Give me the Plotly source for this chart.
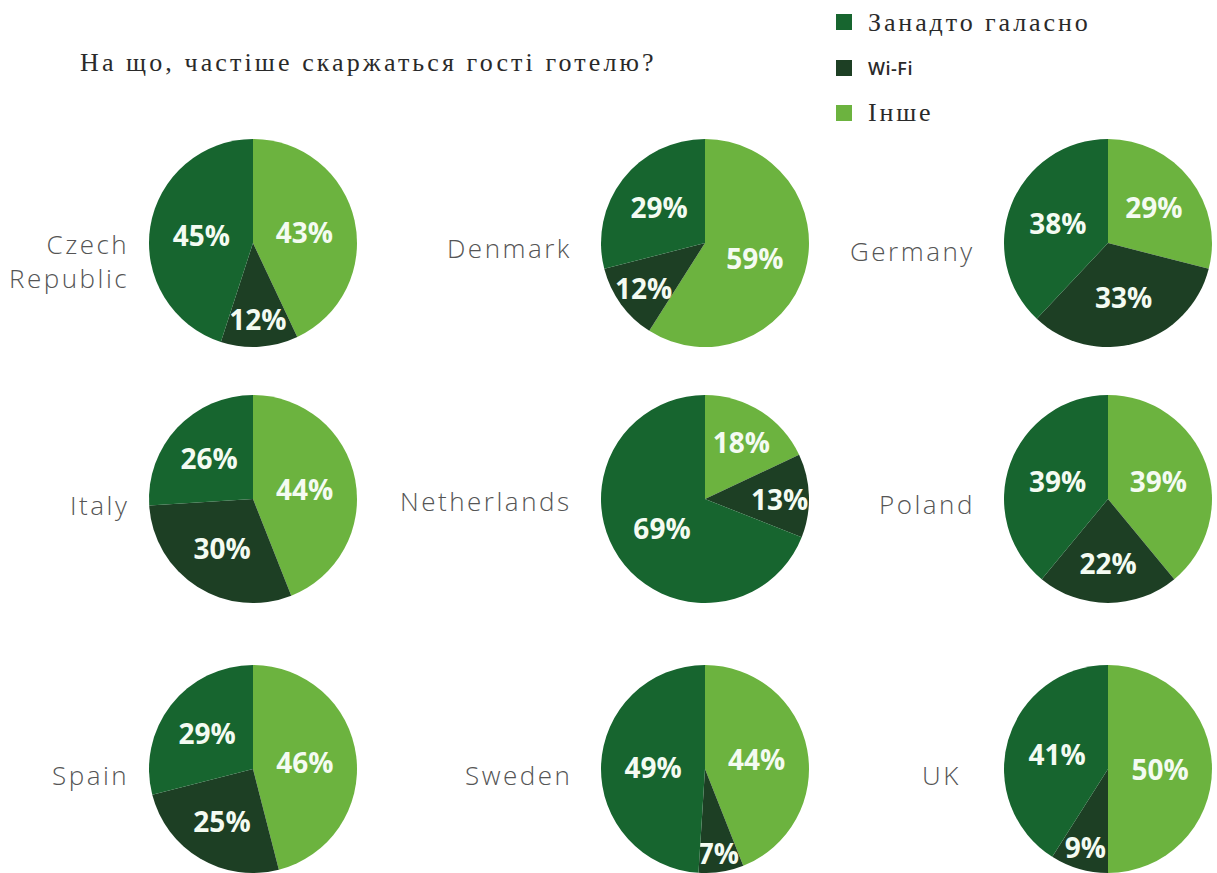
import plotly.graph_objects as go

countries = ["Czech<br>Republic", "Denmark", "Germany",
             "Italy", "Netherlands", "Poland",
             "Spain", "Sweden", "UK"]
categories = ["Інше", "Wi-Fi", "Занадто галасно"]
noise = [45, 29, 38, 26, 69, 39, 29, 49, 41]
wifi = [12, 12, 33, 30, 13, 22, 25, 7, 9]
other = [43, 59, 29, 44, 18, 39, 46, 44, 50]

title_text = "На що, частіше скаржаться гості готелю?"
legend_names = ["Занадто галасно", "Wi-Fi", "Інше"]

C_NOISE = "#17652f"
C_WIFI = "#1d3f24"
C_OTHER = "#6cb33f"
colors = [C_OTHER, C_WIFI, C_NOISE]
legend_colors = [C_NOISE, C_WIFI, C_OTHER]

W, H = 1217, 873
col_cx = [253, 705, 1108]
row_cy = [243, 499, 769]
R = 104
label_right = [131, 574, 977]
label_dy = [[18, 5, 8], [6, 2, 5], [6, 6, 6]]


def spaced(s, px):
    return '<span style="letter-spacing:%spx">%s</span>' % (px, s)


fig = go.Figure()
annotations = []
for i, name in enumerate(countries):
    r, c = divmod(i, 3)
    cx, cy = col_cx[c], row_cy[r]
    x0, x1 = (cx - R) / W, (cx + R) / W
    y0, y1 = max(0, 1 - (cy + R) / H), 1 - (cy - R) / H
    fig.add_trace(go.Pie(
        labels=categories,
        values=[other[i], wifi[i], noise[i]],
        marker=dict(colors=colors, line=dict(width=0)),
        sort=False,
        direction="clockwise",
        rotation=0,
        texttemplate="%{value}%",
        textposition="inside",
        insidetextorientation="horizontal",
        textfont=dict(family="Open Sans", size=28, color="#f4fbf2", weight=700),
        domain=dict(x=[x0, x1], y=[y0, y1]),
        showlegend=False,
        hoverinfo="label+value",
    ))
    rx = label_right[c] if name != "UK" else 963
    lines = name.split("<br>")
    txt = "<br>".join(spaced(l, 2.5) for l in lines)
    annotations.append(dict(
        x=rx / W, y=1 - (cy + label_dy[r][c]) / H, xref="paper", yref="paper",
        text=txt, showarrow=False, xanchor="right", yanchor="middle",
        align="right",
        font=dict(family="Open Sans", size=26, color="#555555", weight=300),
    ))

annotations.append(dict(
    x=78 / W, y=1 - 63 / H, xref="paper", yref="paper", text=spaced(title_text, 3.1),
    showarrow=False, xanchor="left", yanchor="middle",
    font=dict(family="Liberation Serif", size=26, color="#2a2a2a"),
))

shapes = []
leg_y = [22, 68, 113]
leg_fonts = [dict(family="Liberation Serif", size=26, color="#2a2a2a"),
             dict(family="Open Sans", size=18, color="#2a2a2a", weight=600),
             dict(family="Liberation Serif", size=26, color="#2a2a2a")]
leg_spacing = [2.9, 0.5, 2.8]
for k, nm in enumerate(legend_names):
    yc = leg_y[k]
    shapes.append(dict(type="rect", xref="paper", yref="paper",
                       x0=836 / W, x1=852 / W, y0=1 - (yc + 8) / H, y1=1 - (yc - 8) / H,
                       fillcolor=legend_colors[k], line=dict(width=0)))
    annotations.append(dict(
        x=866 / W, y=1 - yc / H, xref="paper", yref="paper", text=spaced(nm, leg_spacing[k]),
        showarrow=False, xanchor="left", yanchor="middle", font=leg_fonts[k],
    ))

fig.update_layout(
    width=W, height=H,
    margin=dict(l=0, r=0, t=0, b=0),
    paper_bgcolor="white", plot_bgcolor="white",
    annotations=annotations, shapes=shapes,
    showlegend=False,
    uniformtext=dict(minsize=27, mode="show"),
)

fig.write_html("out.html")
